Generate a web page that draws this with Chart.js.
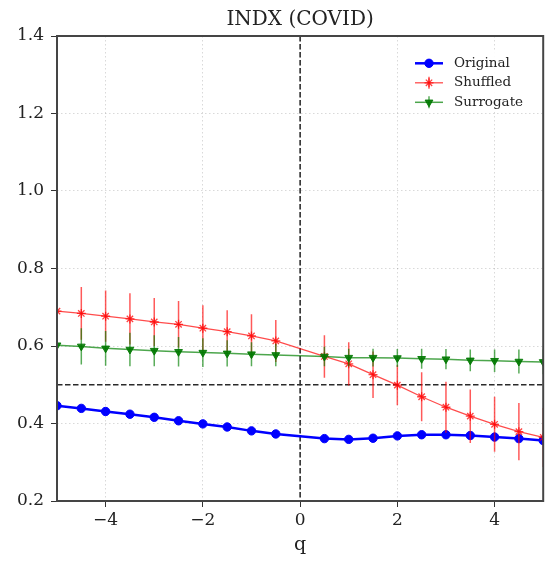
<!DOCTYPE html>
<html>
<head>
<meta charset="utf-8">
<script src="https://cdn.jsdelivr.net/npm/chart.js@4/dist/chart.umd.min.js"></script>
<style>
  html, body { margin: 0; padding: 0; background: #ffffff; }
  #wrap { width: 549px; height: 562px; }
</style>
</head>
<body>
<div id="wrap"><canvas id="chart" width="549" height="562"></canvas></div>
<script>
// Generalised Hurst exponent h(q) for the three series
const qValues = [-5, -4.5, -4, -3.5, -3, -2.5, -2, -1.5, -1, -0.5,
                 0.5, 1, 1.5, 2, 2.5, 3, 3.5, 4, 4.5, 5];

const originalH = [0.446, 0.439, 0.431, 0.424, 0.416, 0.407, 0.399, 0.391, 0.381, 0.373,
                   0.361, 0.359, 0.362, 0.368, 0.371, 0.371, 0.369, 0.365, 0.361, 0.356];

const shuffledH = [0.690, 0.684, 0.677, 0.670, 0.662, 0.656, 0.646, 0.637, 0.626, 0.613,
                   0.573, 0.554, 0.526, 0.499, 0.469, 0.442, 0.419, 0.398, 0.379, 0.364];
const shuffledErr = [0.070, 0.068, 0.066, 0.066, 0.062, 0.060, 0.059, 0.055, 0.056, 0.054,
                     0.055, 0.056, 0.060, 0.052, 0.063, 0.066, 0.069, 0.071, 0.074, 0.076];

const surrogateH = [0.602, 0.599, 0.594, 0.591, 0.588, 0.585, 0.583, 0.581, 0.579, 0.577,
                    0.573, 0.570, 0.570, 0.569, 0.567, 0.566, 0.563, 0.562, 0.560, 0.559];
const surrogateErr = [0.048, 0.047, 0.045, 0.043, 0.040, 0.038, 0.037, 0.034, 0.031, 0.029,
                      0.025, 0.023, 0.023, 0.023, 0.026, 0.026, 0.028, 0.029, 0.031, 0.032];

const xTicks = [-4, -2, 0, 2, 4];
const yTicks = [0.2, 0.4, 0.6, 0.8, 1.0, 1.2, 1.4];

// Reference levels: q = 0 and h = 0.5
const refQ = 0;
const refH = 0.5;

const chartTitle = 'INDX (COVID)';

const SERIF = "'DejaVu Serif', serif";
const TEXT = '#222222';

const toPoints = ys => qValues.map((q, i) => ({ x: q, y: ys[i] }));
const minusFmt = v => (v < 0 ? '\u2212' : '') + Math.abs(v);

// Vertical error bars, drawn just before each dataset's line
const errorBars = {
  id: 'errorBars',
  beforeDatasetDraw(chart, args) {
    const ds = chart.data.datasets[args.index];
    if (!ds.errors) return;
    const { ctx, chartArea: a } = chart;
    const xs = chart.scales.x, ys = chart.scales.y;
    ctx.save();
    ctx.beginPath();
    ctx.rect(a.left, a.top, a.right - a.left, a.bottom - a.top);
    ctx.clip();
    ctx.strokeStyle = ds.errorColor;
    ctx.lineWidth = 1.5;
    ds.data.forEach((p, i) => {
      const e = ds.errors[i];
      const px = xs.getPixelForValue(p.x);
      ctx.beginPath();
      ctx.moveTo(px, ys.getPixelForValue(p.y - e));
      ctx.lineTo(px, ys.getPixelForValue(p.y + e));
      ctx.stroke();
    });
    ctx.restore();
  }
};

// Dashed reference lines at q = 0 and h = 0.5
const refLines = {
  id: 'refLines',
  beforeDatasetsDraw(chart) {
    const { ctx, chartArea: a } = chart;
    const px = chart.scales.x.getPixelForValue(refQ);
    const py = chart.scales.y.getPixelForValue(refH);
    ctx.save();
    ctx.lineWidth = 1.3;
    ctx.setLineDash([5.5, 2.5]);
    ctx.strokeStyle = '#000000';
    ctx.beginPath();
    ctx.moveTo(px, a.top);
    ctx.lineTo(px, a.bottom);
    ctx.stroke();
    ctx.strokeStyle = '#2a2a2a';
    ctx.beginPath();
    ctx.moveTo(a.left, py);
    ctx.lineTo(a.right, py);
    ctx.stroke();
    ctx.restore();
  }
};

// Box around the plotting area
const frame = {
  id: 'frame',
  afterDatasetsDraw(chart) {
    const { ctx, chartArea: a } = chart;
    ctx.save();
    ctx.strokeStyle = '#454545';
    ctx.lineWidth = 2;
    ctx.strokeRect(a.left, a.top, a.right - a.left, a.bottom - a.top);
    ctx.restore();
  }
};

// Title centred over the plotting area
const axesTitle = {
  id: 'axesTitle',
  afterDraw(chart) {
    const { ctx, chartArea: a } = chart;
    ctx.save();
    ctx.fillStyle = TEXT;
    ctx.font = "20px " + SERIF;
    ctx.textAlign = 'center';
    ctx.textBaseline = 'middle';
    ctx.fillText(chartTitle, (a.left + a.right) / 2, 19.5);
    ctx.restore();
  }
};

// Legend in the upper right corner of the plot
const cornerLegend = {
  id: 'cornerLegend',
  afterDraw(chart) {
    const { ctx } = chart;
    const helpers = Chart.helpers;
    ctx.save();
    ctx.fillStyle = 'rgba(255,255,255,0.9)';
    ctx.fillRect(405, 50, 128, 61);
    chart.data.datasets.forEach((ds, i) => {
      const y = 63.3 + i * 19.5;
      ctx.strokeStyle = ds.borderColor;
      ctx.lineWidth = ds.borderWidth;
      ctx.setLineDash([]);
      ctx.beginPath();
      ctx.moveTo(415, y);
      ctx.lineTo(443, y);
      ctx.stroke();
      if (ds.errors) {
        ctx.strokeStyle = ds.errorColor;
        ctx.lineWidth = 1.5;
        ctx.beginPath();
        ctx.moveTo(429, y - 6);
        ctx.lineTo(429, y + 6);
        ctx.stroke();
      }
      ctx.fillStyle = ds.pointBackgroundColor || ds.pointBorderColor;
      ctx.strokeStyle = ds.pointBorderColor;
      ctx.lineWidth = ds.pointBorderWidth;
      helpers.drawPoint(ctx, {
        pointStyle: ds.pointStyle,
        rotation: ds.pointRotation || 0,
        radius: ds.pointRadius,
        borderWidth: ds.pointBorderWidth
      }, 429, y);
      ctx.fillStyle = TEXT;
      ctx.font = "13.5px " + SERIF;
      ctx.textAlign = 'left';
      ctx.textBaseline = 'middle';
      ctx.fillText(ds.label, 454, y);
    });
    ctx.restore();
  }
};

new Chart(document.getElementById('chart'), {
  type: 'line',
  data: {
    datasets: [
      {
        label: 'Original',
        data: toPoints(originalH),
        borderColor: '#0000ff',
        backgroundColor: '#0000ff',
        borderWidth: 2.5,
        pointStyle: 'circle',
        pointRadius: 4.2,
        pointBackgroundColor: '#0000ff',
        pointBorderColor: '#0000ff',
        pointBorderWidth: 1,
        clip: 0,
        order: 2
      },
      {
        label: 'Shuffled',
        data: toPoints(shuffledH),
        errors: shuffledErr,
        errorColor: 'rgba(255,0,0,0.65)',
        borderColor: 'rgba(255,0,0,0.7)',
        backgroundColor: 'rgba(255,0,0,0.7)',
        borderWidth: 1.3,
        pointStyle: 'star',
        pointRadius: 4.5,
        pointBackgroundColor: 'rgba(255,0,0,0.75)',
        pointBorderColor: 'rgba(255,0,0,0.75)',
        pointBorderWidth: 1.3,
        clip: 0,
        order: 1
      },
      {
        label: 'Surrogate',
        data: toPoints(surrogateH),
        errors: surrogateErr,
        errorColor: 'rgba(0,128,0,0.65)',
        borderColor: 'rgba(0,128,0,0.7)',
        backgroundColor: 'rgba(0,128,0,0.7)',
        borderWidth: 1.5,
        pointStyle: 'triangle',
        pointRotation: 180,
        pointRadius: 4.5,
        pointBackgroundColor: 'rgba(0,120,0,0.9)',
        pointBorderColor: 'rgba(0,120,0,0.9)',
        pointBorderWidth: 1,
        clip: 0,
        order: 0
      }
    ]
  },
  options: {
    responsive: false,
    animation: false,
    devicePixelRatio: 1,
    layout: { padding: { left: 0, right: 5.5, top: 36, bottom: 0 } },
    elements: { line: { tension: 0 } },
    plugins: {
      legend: { display: false },
      tooltip: { enabled: false },
      title: { display: false }
    },
    scales: {
      x: {
        type: 'linear',
        min: -5,
        max: 5,
        afterBuildTicks: s => { s.ticks = xTicks.map(v => ({ value: v })); },
        afterFit: s => { s.height = 61; },
        ticks: {
          color: TEXT,
          font: { family: SERIF, size: 17 },
          padding: 3,
          maxRotation: 0,
          callback: v => minusFmt(v)
        },
        grid: {
          color: 'rgba(0,0,0,0.15)',
          tickColor: '#333333',
          tickLength: 6,
          tickWidth: 1,
          tickBorderDash: []
        },
        border: { display: false, dash: [1.5, 2.5] },
        title: {
          display: true,
          text: 'q',
          color: TEXT,
          font: { family: SERIF, size: 19 },
          padding: { top: 0, bottom: 5.6 }
        }
      },
      y: {
        min: 0.2,
        max: 1.4,
        afterBuildTicks: s => { s.ticks = yTicks.map(v => ({ value: v })); },
        afterFit: s => { s.width = 57; },
        ticks: {
          color: TEXT,
          font: { family: SERIF, size: 17 },
          padding: 7,
          callback: v => v.toFixed(1)
        },
        grid: {
          color: 'rgba(0,0,0,0.15)',
          tickColor: '#333333',
          tickLength: 6,
          tickWidth: 1,
          tickBorderDash: []
        },
        border: { display: false, dash: [1.5, 2.5] }
      }
    }
  },
  plugins: [refLines, errorBars, frame, axesTitle, cornerLegend]
});
</script>
</body>
</html>
